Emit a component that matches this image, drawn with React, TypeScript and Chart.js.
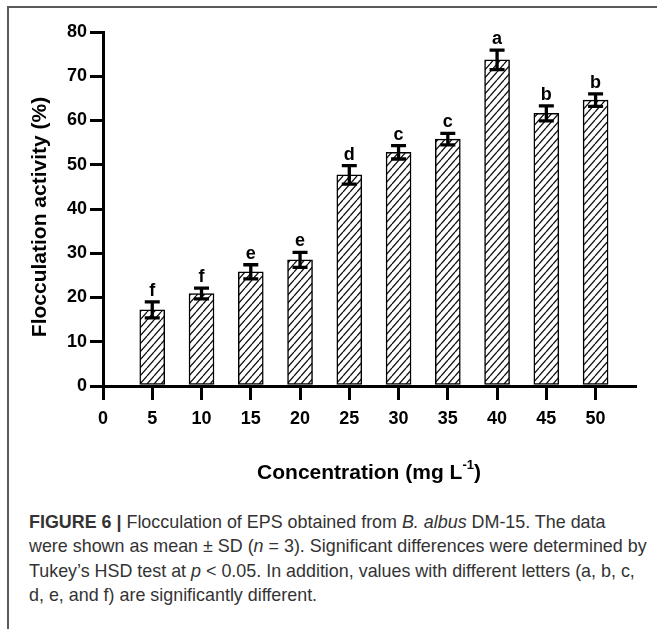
import React, { useEffect, useRef } from 'react';
import { Chart, registerables } from 'chart.js';

Chart.register(...registerables);

// ---- data ----
const concentrations = [5, 10, 15, 20, 25, 30, 35, 40, 45, 50];
const means = [17.2, 20.9, 25.8, 28.5, 47.7, 52.8, 55.8, 73.7, 61.6, 64.6];
const sds = [1.8, 1.2, 1.6, 1.7, 2.1, 1.5, 1.3, 2.2, 1.7, 1.4];
const letters = ['f', 'f', 'e', 'e', 'd', 'c', 'c', 'a', 'b', 'b'];
const xTickValues = [0, 5, 10, 15, 20, 25, 30, 35, 40, 45, 50];
const yTickValues = [0, 10, 20, 30, 40, 50, 60, 70, 80];

const W = 657;
const H = 490;
const FONT = '"Liberation Sans", Arial, Helvetica, sans-serif';

function makeHatch(): CanvasPattern | string {
  const tw = 7;
  const th = 8;
  const c = document.createElement('canvas');
  c.width = tw;
  c.height = th;
  const g = c.getContext('2d');
  if (!g) return '#fff';
  g.fillStyle = '#fff';
  g.fillRect(0, 0, tw, th);
  g.strokeStyle = '#111';
  g.lineWidth = 1.3;
  g.beginPath();
  g.moveTo(0, th);
  g.lineTo(tw, 0);
  g.moveTo(-tw, th);
  g.lineTo(0, 0);
  g.moveTo(tw, th);
  g.lineTo(2 * tw, 0);
  g.stroke();
  return g.createPattern(c, 'repeat') || '#fff';
}

const errorBarPlugin = {
  id: 'errorBarsLetters',
  afterDatasetsDraw(chart: any) {
    const { ctx, scales } = chart;
    const x = scales.x;
    const y = scales.y;
    ctx.save();
    ctx.strokeStyle = '#000';
    ctx.lineWidth = 3.3;
    ctx.fillStyle = '#000';
    ctx.font = `bold 18px ${FONT}`;
    ctx.textAlign = 'center';
    ctx.textBaseline = 'alphabetic';
    concentrations.forEach((c, i) => {
      const px = x.getPixelForValue(c);
      const top = y.getPixelForValue(means[i] + sds[i]);
      const bot = y.getPixelForValue(means[i] - sds[i]);
      ctx.beginPath();
      ctx.moveTo(px, top);
      ctx.lineTo(px, bot);
      ctx.moveTo(px - 7.5, top);
      ctx.lineTo(px + 7.5, top);
      ctx.moveTo(px - 7.5, bot);
      ctx.lineTo(px + 7.5, bot);
      ctx.stroke();
      ctx.fillText(letters[i], px, top - 6);
    });
    ctx.restore();
  },
};

const titlePlugin = {
  id: 'axisTitles',
  afterDraw(chart: any) {
    const { ctx, chartArea } = chart;
    ctx.save();
    ctx.fillStyle = '#000';
    // y title
    ctx.font = `bold 21px ${FONT}`;
    ctx.textAlign = 'center';
    ctx.textBaseline = 'middle';
    ctx.translate(40, 217);
    ctx.rotate(-Math.PI / 2);
    ctx.fillText('Flocculation activity (%)', 0, 0);
    ctx.setTransform(1, 0, 0, 1, 0, 0);
    // x title with superscript
    const main = 'Concentration (mg L';
    const sup = '-1';
    const end = ')';
    const bigFont = `bold 21px ${FONT}`;
    const smallFont = `bold 13px ${FONT}`;
    ctx.font = bigFont;
    const wMain = ctx.measureText(main).width;
    const wEnd = ctx.measureText(end).width;
    ctx.font = smallFont;
    const wSup = ctx.measureText(sup).width;
    const total = wMain + wSup + wEnd;
    const cx = (chartArea.left + chartArea.right) / 2;
    let sx = cx - total / 2;
    const base = 479;
    ctx.textAlign = 'left';
    ctx.textBaseline = 'alphabetic';
    ctx.font = bigFont;
    ctx.fillText(main, sx, base);
    sx += wMain;
    ctx.font = smallFont;
    ctx.fillText(sup, sx, base - 10);
    sx += wSup;
    ctx.font = bigFont;
    ctx.fillText(end, sx, base);
    ctx.restore();
  },
};

export default function App() {
  const ref = useRef<HTMLCanvasElement | null>(null);

  useEffect(() => {
    if (!ref.current) return;
    const hatch = makeHatch();
    const tickFont = { family: FONT, size: 18, weight: 'bold' as const };
    const chart = new Chart(ref.current, {
      type: 'bar',
      data: {
        datasets: [
          {
            data: concentrations.map((c, i) => ({ x: c, y: means[i] })),
            backgroundColor: hatch as any,
            borderColor: '#000',
            borderWidth: 1.5,
            borderSkipped: false,
            barThickness: 25,
          },
        ],
      },
      options: {
        responsive: false,
        animation: false,
        devicePixelRatio: 1,
        layout: { padding: { left: 0, right: 22, top: 32, bottom: 0 } },
        plugins: {
          legend: { display: false },
          tooltip: { enabled: false },
        },
        scales: {
          x: {
            type: 'linear',
            min: 0,
            max: 54,
            offset: false,
            afterBuildTicks: (s: any) => {
              s.ticks = xTickValues.map((v) => ({ value: v }));
            },
            afterFit: (s: any) => {
              s.height = H - 386;
            },
            grid: {
              offset: false,
              drawOnChartArea: false,
              drawTicks: true,
              tickLength: 14,
              tickWidth: 3,
              tickColor: '#000',
              lineWidth: 3,
              color: '#000',
            },
            border: { display: true, width: 3, color: '#000' },
            ticks: {
              color: '#000',
              font: tickFont,
              padding: 8,
              maxRotation: 0,
              autoSkip: false,
              callback: (v: any) => String(v),
            },
          },
          y: {
            type: 'linear',
            min: 0,
            max: 80,
            afterBuildTicks: (s: any) => {
              s.ticks = yTickValues.map((v) => ({ value: v }));
            },
            afterFit: (s: any) => {
              s.width = 103;
            },
            grid: {
              drawOnChartArea: false,
              drawTicks: true,
              tickLength: 13,
              tickWidth: 3,
              tickColor: '#000',
              lineWidth: 3,
              color: '#000',
            },
            border: { display: true, width: 3, color: '#000' },
            ticks: {
              color: '#000',
              font: tickFont,
              padding: 3,
              autoSkip: false,
              callback: (v: any) => String(v),
            },
          },
        },
      },
      plugins: [errorBarPlugin, titlePlugin],
    } as any);
    return () => chart.destroy();
  }, []);

  return (
    <div
      style={{
        position: 'relative',
        width: W,
        height: 629,
        overflow: 'hidden',
        background: '#fff',
      }}
    >
      <style>{`body{margin:0;background:#fff;}`}</style>
      <div
        style={{
          position: 'absolute',
          left: 7,
          top: 6,
          width: 800,
          height: 800,
          borderTop: '2px solid #5a5a5a',
          borderLeft: '2px solid #5a5a5a',
        }}
      />
      <canvas
        ref={ref}
        width={W}
        height={H}
        style={{ position: 'absolute', left: 0, top: 0, width: W, height: H }}
      />
      <div
        style={{
          position: 'absolute',
          left: 29,
          top: 510,
          fontFamily: FONT,
          fontSize: 17.9,
          lineHeight: '24.4px',
          color: '#333',
          whiteSpace: 'nowrap',
        }}
      >
        <b>FIGURE 6 |</b> Flocculation of EPS obtained from <i>B. albus</i> DM-15. The data
        <br />
        were shown as mean ± SD (<i>n</i> = 3). Significant differences were determined by
        <br />
        Tukey’s HSD test at <i>p</i> &lt; 0.05. In addition, values with different letters (a, b, c,
        <br />
        d, e, and f) are significantly different.
      </div>
    </div>
  );
}
